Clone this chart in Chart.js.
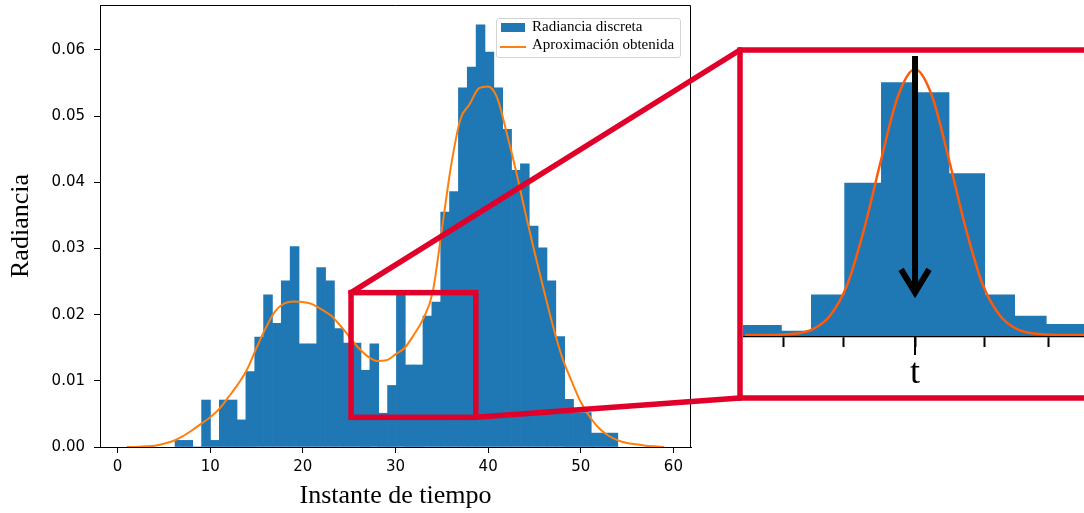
<!DOCTYPE html>
<html>
<head>
<meta charset="utf-8">
<script src="https://cdn.jsdelivr.net/npm/chart.js@4.4.1/dist/chart.umd.min.js"></script>
<style>
html,body{margin:0;padding:0;background:#fff;}
#wrap{position:relative;width:1084px;height:513px;overflow:hidden;}
#main{position:absolute;left:0;top:0;}
#zoom{position:absolute;left:743px;top:53px;}
#legend{position:absolute;left:496px;top:18px;width:183px;height:38px;border:1px solid #d4d4d4;border-radius:3px;background:rgba(255,255,255,.8);font:15px "Liberation Serif",serif;color:#000;}
#legend .patch{position:absolute;left:4px;top:4px;width:24px;height:9px;}
#legend .line{position:absolute;left:3px;top:27px;width:26px;height:2px;}
#legend .txt{position:absolute;left:35px;line-height:15px;white-space:nowrap;}
</style>
</head>
<body>
<div id="wrap">
  <canvas id="main" width="1084" height="513"></canvas>
  <canvas id="zoom" width="341" height="343"></canvas>
  <div id="legend"></div>
</div>
<script>
// histograma principal: 50 intervalos entre 6.2 y 54.0
const binStart = 6.2;
const binWidth = 0.956;
const radianciaDiscreta = [
  0.0010,0.0010,0.0000,0.0071,0.0010,0.0071,0.0071,0.0041,0.0114,0.0166,
  0.0230,0.0187,0.0251,0.0303,0.0156,0.0156,0.0271,0.0251,0.0179,0.0157,
  0.0157,0.0116,0.0156,0.0051,0.0093,0.0231,0.0124,0.0124,0.0198,0.0219,
  0.0355,0.0386,0.0543,0.0574,0.0638,0.0597,0.0543,0.0480,0.0418,0.0428,
  0.0334,0.0301,0.0251,0.0167,0.0072,0.0052,0.0052,0.0021,0.0021,0.0021
];
const tiempoCurva = [
  1,2,3,4,5,6,7,8,9,10,11,12,13,14,15,16,17,18,19,20,
  21,22,23,24,25,26,27,28,29,30,31,32,33,34,35,36,37,38,39,40,
  41,42,43,44,45,46,47,48,49,50,51,52,53,54,55,56,57,58,59
];
const aproximacion = [
  0.0000,0.0000,0.0001,0.0002,0.0005,0.0009,0.0016,0.0025,0.0035,0.0045,
  0.0058,0.0076,0.0095,0.0118,0.0150,0.0180,0.0205,0.0217,0.0220,0.0219,
  0.0216,0.0208,0.0199,0.0184,0.0167,0.0150,0.0137,0.0130,0.0131,0.0140,
  0.0150,0.0170,0.0194,0.0233,0.0328,0.0425,0.0495,0.0518,0.0542,0.0545,
  0.0527,0.0475,0.0418,0.0355,0.0295,0.0238,0.0183,0.0135,0.0100,0.0068,
  0.0045,0.0028,0.0017,0.0010,0.0006,0.0004,0.0002,0.0001,0.0000
];
const xTicks = [0,10,20,30,40,50,60];
const yTicks = [0,0.01,0.02,0.03,0.04,0.05,0.06];
const zoomX = [25.2, 38.67];
const zoomY = [0.00448, 0.02333];

// detalle ampliado (unidades arbitrarias, t = 0)
const bordesZoom = [-5.08,-3.92,-3.06,-2.08,-1.0,0,1.01,2.06,2.94,3.87,4.97];
const alturasZoom = [0.041,0.020,0.156,0.575,0.951,0.914,0.610,0.156,0.076,0.045];
const xCurvaZoom = [-5,-4.5,-4,-3.5,-3,-2.5,-2,-1.5,-1,-0.5,0,0.5,1,1.5,2,2.5,3,3.5,4,4.5,5];
const curvaZoom = [0.004,0.004,0.005,0.009,0.026,0.076,0.19,0.40,0.66,0.90,1.0,0.90,0.66,0.40,0.19,0.076,0.026,0.009,0.005,0.004,0.004];
const ticksZoom = [-3.87,-2.11,0,2.04,3.92];
const flechaY = [1.05, 0.141];

const AZUL = '#1f77b4', NARANJA = '#ff7f0e', ROJO = '#e1002a';
Chart.defaults.font.family = '"DejaVu Sans", sans-serif';
Chart.defaults.color = '#000';

const marcoPlugin = {
  id: 'marco',
  afterDraw(chart){
    const {ctx, chartArea: a, scales: {x, y}} = chart;
    ctx.save();
    ctx.strokeStyle = '#000'; ctx.lineWidth = 1;
    ctx.beginPath();
    ctx.moveTo(a.left, a.top + 0.5); ctx.lineTo(a.right - 0.5, a.top + 0.5); ctx.lineTo(a.right - 0.5, a.bottom);
    ctx.stroke();
    // recuadro de zoom
    const L = x.getPixelForValue(zoomX[0]), R = x.getPixelForValue(zoomX[1]);
    const T = y.getPixelForValue(zoomY[1]), B = y.getPixelForValue(zoomY[0]);
    ctx.strokeStyle = ROJO; ctx.lineWidth = 5.5; ctx.lineJoin = 'miter';
    ctx.strokeRect(L, T, R - L, B - T);
    // marco del detalle y lineas de union
    const z = document.getElementById('zoom');
    const fl = z.offsetLeft - 3, ft = z.offsetTop - 3, fb = z.offsetTop + z.height + 2;
    ctx.strokeRect(fl, ft, 500, fb - ft);
    ctx.lineCap = 'round';
    ctx.beginPath(); ctx.moveTo(L, T); ctx.lineTo(fl, ft); ctx.stroke();
    ctx.beginPath(); ctx.moveTo(R, B); ctx.lineTo(fl, fb); ctx.stroke();
    ctx.restore();
  }
};

const mainChart = new Chart(document.getElementById('main'), {
  type: 'bar',
  data: {
    datasets: [
      { type: 'line', label: 'Aproximación obtenida', order: 0,
        data: tiempoCurva.map((t, i) => ({x: t, y: aproximacion[i]})),
        borderColor: NARANJA, borderWidth: 2, pointRadius: 0, cubicInterpolationMode: 'monotone', fill: false },
      { type: 'bar', label: 'Radiancia discreta', order: 1,
        data: radianciaDiscreta.map((v, k) => ({x: binStart + binWidth * (k + 0.5), y: v})),
        backgroundColor: AZUL, borderWidth: 0, barPercentage: 1, categoryPercentage: 1 }
    ]
  },
  options: {
    responsive: false, devicePixelRatio: 1, animation: false, events: [],
    layout: { padding: { left: 0, top: 5, right: 393, bottom: 0 } },
    plugins: { legend: { display: false }, tooltip: { enabled: false } },
    scales: {
      x: {
        type: 'linear', min: -1.9, max: 61.9, offset: false,
        afterFit: s => { s.height = 66; s.paddingLeft = 0; s.paddingRight = 0; },
        afterBuildTicks: s => { s.ticks = xTicks.map(v => ({value: v})); },
        grid: { offset: false, drawOnChartArea: false, drawTicks: true, tickLength: 6, color: '#000' },
        border: { display: true, color: '#000', width: 1 },
        ticks: { font: { size: 15 }, padding: 5, color: '#000', callback: v => String(v) },
        title: { display: true, text: 'Instante de tiempo', color: '#000',
                 font: { family: '"Liberation Serif", serif', size: 26 }, padding: { top: 0, bottom: 1 } }
      },
      y: {
        min: 0, max: 0.0668,
        afterFit: s => { s.width = 100; s.paddingTop = 0; s.paddingBottom = 0; },
        afterBuildTicks: s => { s.ticks = yTicks.map(v => ({value: v})); },
        grid: { drawOnChartArea: false, drawTicks: true, tickLength: 6, color: '#000' },
        border: { display: true, color: '#000', width: 1 },
        ticks: { font: { size: 15 }, padding: 9, color: '#000', callback: v => v.toFixed(2) },
        title: { display: true, text: 'Radiancia', color: '#000',
                 font: { family: '"Liberation Serif", serif', size: 26 }, padding: { top: 6, bottom: 0 } }
      }
    }
  },
  plugins: [marcoPlugin]
});

// leyenda construida desde los conjuntos de datos
const leg = document.getElementById('legend');
const dsBar = mainChart.data.datasets[1], dsLine = mainChart.data.datasets[0];
leg.innerHTML =
  `<div class="patch" style="background:${dsBar.backgroundColor}"></div>` +
  `<div class="txt" style="top:0px">${dsBar.label}</div>` +
  `<div class="line" style="background:${dsLine.borderColor}"></div>` +
  `<div class="txt" style="top:18px">${dsLine.label}</div>`;

const flechaPlugin = {
  id: 'flecha',
  afterDraw(chart){
    const {ctx, chartArea: a, scales: {x, y}} = chart;
    const px = x.getPixelForValue(0);
    ctx.save();
    // marca central mas larga
    ctx.strokeStyle = '#000'; ctx.lineWidth = 2;
    ctx.beginPath(); ctx.moveTo(px, a.bottom); ctx.lineTo(px, a.bottom + 19); ctx.stroke();
    // flecha
    const top = y.getPixelForValue(flechaY[0]), tip = y.getPixelForValue(flechaY[1]) - 6;
    ctx.lineWidth = 6; ctx.lineJoin = 'miter'; ctx.miterLimit = 10;
    ctx.beginPath(); ctx.moveTo(px, top); ctx.lineTo(px, tip - 3); ctx.stroke();
    ctx.beginPath(); ctx.moveTo(px - 14, tip - 23); ctx.lineTo(px, tip); ctx.lineTo(px + 14, tip - 23); ctx.stroke();
    ctx.restore();
  }
};

new Chart(document.getElementById('zoom'), {
  type: 'line',
  data: {
    datasets: [
      { label: 'curva', order: 0,
        data: xCurvaZoom.map((v, i) => ({x: v, y: curvaZoom[i]})),
        borderColor: '#ff5a0a', borderWidth: 2.5, pointRadius: 0, cubicInterpolationMode: 'monotone', fill: false },
      { label: 'barras', order: 1,
        data: bordesZoom.map((v, i) => ({x: v, y: alturasZoom[Math.min(i, alturasZoom.length - 1)]})),
        stepped: true, borderWidth: 0, pointRadius: 0, fill: 'origin', backgroundColor: AZUL, borderColor: AZUL }
    ]
  },
  options: {
    responsive: false, devicePixelRatio: 1, animation: false, events: [],
    layout: { padding: 0 },
    plugins: { legend: { display: false }, tooltip: { enabled: false } },
    scales: {
      x: {
        type: 'linear', min: -5.06, max: 4.97,
        afterFit: s => { s.height = 60; },
        afterBuildTicks: s => { s.ticks = ticksZoom.map(v => ({value: v})); },
        grid: { drawOnChartArea: false, drawTicks: true, tickLength: 11, tickWidth: 2, color: '#000' },
        border: { display: true, color: '#000', width: 2.3 },
        ticks: { font: { family: '"Liberation Serif", serif', size: 36 }, padding: 5, color: '#000',
                 autoSkip: false, maxRotation: 0, callback: v => v === 0 ? 't' : '' }
      },
      y: { display: false, min: 0, max: 1.061 }
    }
  },
  plugins: [flechaPlugin]
});
</script>
</body>
</html>
